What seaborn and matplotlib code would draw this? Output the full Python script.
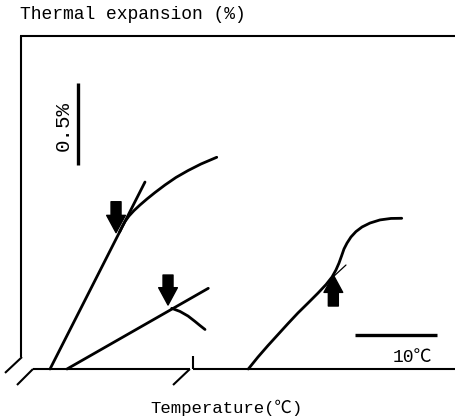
import numpy as np
import matplotlib
matplotlib.use("Agg")
import matplotlib.pyplot as plt
import seaborn as sns

# data: temperature in degC from the left axis, expansion in %
# curve 1 (left, steep) with its tangent line
c1_tangent_t = [3.54, 15.12]
c1_tangent_e = [0.0, 1.14]
c1_bend_t = [12.02, 12.32, 12.68, 13.17, 13.78, 14.51, 15.37, 16.34, 17.56, 18.90, 20.37, 21.95, 23.87]
c1_bend_e = [0.835, 0.866, 0.899, 0.933, 0.966, 1.000, 1.037, 1.076, 1.122, 1.168, 1.210, 1.250, 1.291]

# curve 2 (left, shallow) with the branch that turns down
c2_line_t = [5.61, 22.84]
c2_line_e = [0.0, 0.492]
c2_branch_t = [18.38, 19.39, 20.37, 21.22, 21.83, 22.44]
c2_branch_e = [0.370, 0.351, 0.323, 0.290, 0.265, 0.241]

# curve 3 (right, S shaped) with a short tangent
c3_t = [27.72, 28.90, 30.12, 31.34, 32.56, 33.78, 35.00, 36.22, 37.20, 37.93, 38.41,
        38.78, 39.09, 39.39, 39.76, 40.24, 40.85, 41.59, 42.56, 43.78, 45.12, 46.43]
c3_e = [0.0, 0.073, 0.143, 0.210, 0.277, 0.342, 0.402, 0.463, 0.515, 0.561, 0.604,
        0.646, 0.689, 0.732, 0.768, 0.805, 0.838, 0.866, 0.890, 0.909, 0.918, 0.919]
c3_tangent_t = [38.05, 39.63]
c3_tangent_e = [0.561, 0.634]

# arrows: (tip temperature, tip expansion, tail expansion)
arrows = [(11.59, 0.831, 1.020), (17.93, 0.390, 0.573), (38.09, 0.573, 0.384)]

# scale bars
temp_bar = (40.73, 50.73, 0.207)     # 10 degC
exp_bar = (6.95, 1.244, 1.744)       # 0.5 %

sns.set_theme(style="white")
plt.rcParams['font.family'] = ['Liberation Mono', 'Noto Sans CJK JP', 'DejaVu Sans']

fig = plt.figure(figsize=(4.56, 4.19), dpi=100)
ax = fig.add_axes([0, 0, 1, 1])
ax.set_xlim(-21 / 8.2, 435 / 8.2)
ax.set_ylim(-50 / 164, 369 / 164)
ax.axis("off")

lw_frame = 1.5
k = dict(color="black", lw=lw_frame, solid_capstyle="butt")
top = 2.0305
# left axis, top line, broken bottom axis
ax.plot([0, 0], [0.073, top], **k)
ax.plot([-0.15, ax.get_xlim()[1]], [top, top], **k)
ax.plot([1.46, 20.6], [0, 0], **k)
ax.plot([20.98, ax.get_xlim()[1]], [0, 0], **k)
ax.plot([20.98, 20.98], [0, 0.079], **k)
# break marks
ax.plot([-1.95, 0.12], [-0.024, 0.073], **k)
ax.plot([-0.49, 1.46], [-0.0976, 0], **k)
ax.plot([18.54, 20.6], [-0.0976, 0], **k)

lw = 2.0
ck = dict(color="black", lw=lw, sort=False, ax=ax, solid_joinstyle="round", solid_capstyle="round")
sns.lineplot(x=c1_tangent_t, y=c1_tangent_e, **ck)
sns.lineplot(x=c1_bend_t, y=c1_bend_e, **ck)
sns.lineplot(x=c2_line_t, y=c2_line_e, **ck)
sns.lineplot(x=c2_branch_t, y=c2_branch_e, **ck)
sns.lineplot(x=c3_t, y=c3_e, **ck)
sns.lineplot(x=c3_tangent_t, y=c3_tangent_e, color="black", lw=0.9, sort=False, ax=ax)

for t, tip, tail in arrows:
    ax.annotate("", xy=(t, tip), xytext=(t, tail),
                arrowprops=dict(arrowstyle="simple,head_length=1.25,head_width=1.35,tail_width=0.72",
                                color="black", shrinkA=0, shrinkB=0, mutation_scale=10))

# scale bars
ax.plot([temp_bar[0], temp_bar[1]], [temp_bar[2], temp_bar[2]], color="black", lw=2.4,
        solid_capstyle="butt")
ax.text(47.7, 0.073, "10℃", ha="center", va="center", fontsize=13, color="black")
ax.plot([exp_bar[0], exp_bar[0]], [exp_bar[1], exp_bar[2]], color="black", lw=2.4,
        solid_capstyle="butt")
ax.text(5.12, 1.482, "0.5%", ha="center", va="center", rotation=90, fontsize=15, color="black")

ax.text(-0.12, 2.159, "Thermal expansion (%)", ha="left", va="center", fontsize=13, color="black")
ax.text(25.06, -0.238, "Temperature(℃)", ha="center", va="center", fontsize=12.5, color="black")

fig.savefig("out.png", dpi=100)
